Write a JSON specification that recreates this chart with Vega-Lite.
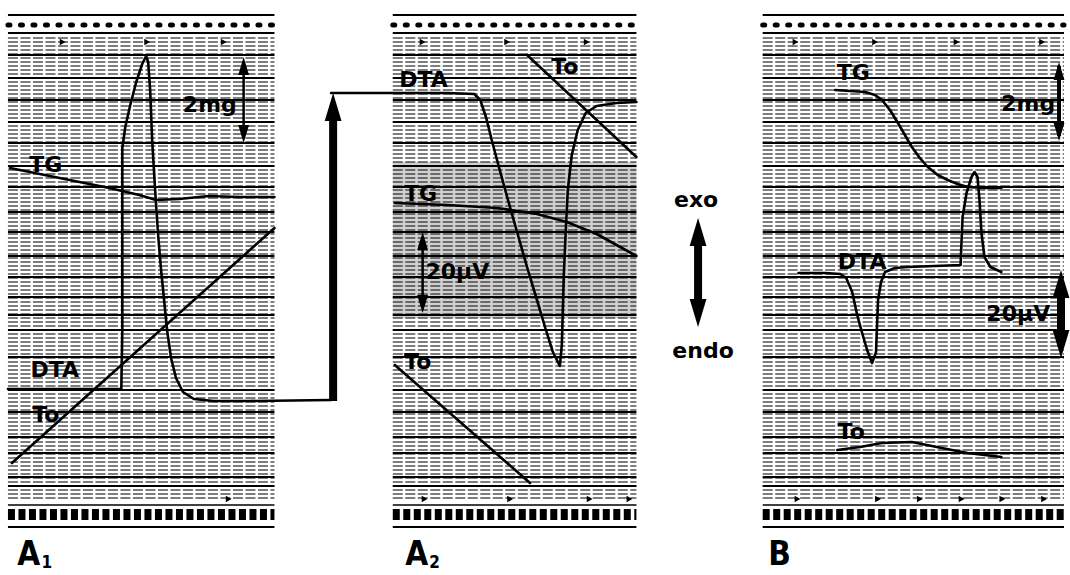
{
  "$schema": "https://vega.github.io/schema/vega-lite/v6.json",
  "width": 1070,
  "height": 575,
  "padding": 0,
  "autosize": {"type": "fit", "contains": "padding"},
  "background": "white",
  "config": {"view": {"stroke": null}, "axis": {"disable": true}, "legend": {"disable": true}},
  "datasets": {
    "stripes": [{"y":38},{"y":42},{"y":46},{"y":50},{"y":54},{"y":58},{"y":62},{"y":66},{"y":70},{"y":74},{"y":78},{"y":82},{"y":86},{"y":90},{"y":94},{"y":98},{"y":102},{"y":106},{"y":110},{"y":114},{"y":118},{"y":122},{"y":126},{"y":130},{"y":134},{"y":138},{"y":142},{"y":146},{"y":150},{"y":154},{"y":158},{"y":162},{"y":166},{"y":170},{"y":174},{"y":178},{"y":182},{"y":186},{"y":190},{"y":194},{"y":198},{"y":202},{"y":206},{"y":210},{"y":214},{"y":218},{"y":222},{"y":226},{"y":230},{"y":234},{"y":238},{"y":242},{"y":246},{"y":250},{"y":254},{"y":258},{"y":262},{"y":266},{"y":270},{"y":274},{"y":278},{"y":282},{"y":286},{"y":290},{"y":294},{"y":298},{"y":302},{"y":306},{"y":310},{"y":314},{"y":318},{"y":322},{"y":326},{"y":330},{"y":334},{"y":338},{"y":342},{"y":346},{"y":350},{"y":354},{"y":358},{"y":362},{"y":366},{"y":370},{"y":374},{"y":378},{"y":382},{"y":386},{"y":390},{"y":394},{"y":398},{"y":402},{"y":406},{"y":410},{"y":414},{"y":418},{"y":422},{"y":426},{"y":430},{"y":434},{"y":438},{"y":442},{"y":446},{"y":450},{"y":454},{"y":458},{"y":462},{"y":466},{"y":470},{"y":474},{"y":478},{"y":482},{"y":486},{"y":490},{"y":494},{"y":498}],
    "majors": [{"y":55},{"y":78},{"y":100},{"y":122},{"y":143},{"y":166},{"y":187},{"y":212},{"y":232},{"y":256},{"y":277},{"y":297},{"y":315},{"y":330},{"y":357},{"y":390},{"y":412},{"y":437},{"y":453},{"y":477},{"y":486}],
    "frames": [{"p":"A1","x0":8,"x1":276},{"p":"A2","x0":395,"x1":640},{"p":"B","x0":767,"x1":1070}],
    "curves": [
      {"id":"a1d","o":1,"x":8,"y":389},{"id":"a1d","o":2,"x":122,"y":389},{"id":"a1d","o":3,"x":123,"y":330},{"id":"a1d","o":4,"x":123,"y":250},{"id":"a1d","o":5,"x":123,"y":180},{"id":"a1d","o":6,"x":123,"y":148},{"id":"a1d","o":7,"x":126,"y":127},{"id":"a1d","o":8,"x":131,"y":105},{"id":"a1d","o":9,"x":137,"y":82},{"id":"a1d","o":10,"x":143,"y":64},{"id":"a1d","o":11,"x":147,"y":56},{"id":"a1d","o":12,"x":149,"y":62},{"id":"a1d","o":13,"x":151,"y":90},{"id":"a1d","o":14,"x":153,"y":140},{"id":"a1d","o":15,"x":156,"y":190},{"id":"a1d","o":16,"x":159,"y":235},{"id":"a1d","o":17,"x":162,"y":270},{"id":"a1d","o":18,"x":165,"y":300},{"id":"a1d","o":19,"x":168,"y":330},{"id":"a1d","o":20,"x":172,"y":358},{"id":"a1d","o":21,"x":177,"y":378},{"id":"a1d","o":22,"x":184,"y":392},{"id":"a1d","o":23,"x":195,"y":399},{"id":"a1d","o":24,"x":215,"y":401},{"id":"a1d","o":25,"x":250,"y":401},{"id":"a1d","o":26,"x":333,"y":400},
      {"id":"a2d","o":1,"x":333,"y":93},{"id":"a2d","o":2,"x":400,"y":93},{"id":"a2d","o":3,"x":450,"y":93},{"id":"a2d","o":4,"x":477,"y":94},{"id":"a2d","o":5,"x":483,"y":100},{"id":"a2d","o":6,"x":489,"y":118},{"id":"a2d","o":7,"x":495,"y":142},{"id":"a2d","o":8,"x":502,"y":168},{"id":"a2d","o":9,"x":510,"y":197},{"id":"a2d","o":10,"x":520,"y":232},{"id":"a2d","o":11,"x":530,"y":267},{"id":"a2d","o":12,"x":540,"y":300},{"id":"a2d","o":13,"x":549,"y":330},{"id":"a2d","o":14,"x":556,"y":352},{"id":"a2d","o":15,"x":563,"y":366},{"id":"a2d","o":16,"x":565,"y":345},{"id":"a2d","o":17,"x":566,"y":310},{"id":"a2d","o":18,"x":567,"y":275},{"id":"a2d","o":19,"x":569,"y":230},{"id":"a2d","o":20,"x":571,"y":190},{"id":"a2d","o":21,"x":575,"y":155},{"id":"a2d","o":22,"x":581,"y":130},{"id":"a2d","o":23,"x":589,"y":113},{"id":"a2d","o":24,"x":600,"y":106},{"id":"a2d","o":25,"x":620,"y":103},{"id":"a2d","o":26,"x":640,"y":102},
      {"id":"a2t1","o":1,"x":530,"y":55},{"id":"a2t1","o":2,"x":640,"y":157},
      {"id":"a2g","o":1,"x":397,"y":203},{"id":"a2g","o":2,"x":450,"y":205},{"id":"a2g","o":3,"x":500,"y":208},{"id":"a2g","o":4,"x":540,"y":214},{"id":"a2g","o":5,"x":570,"y":222},{"id":"a2g","o":6,"x":600,"y":234},{"id":"a2g","o":7,"x":620,"y":245},{"id":"a2g","o":8,"x":640,"y":256},
      {"id":"a2t2","o":1,"x":397,"y":365},{"id":"a2t2","o":2,"x":533,"y":483},
      {"id":"a1g","o":1,"x":10,"y":168},{"id":"a1g","o":2,"x":60,"y":178},{"id":"a1g","o":3,"x":110,"y":188},{"id":"a1g","o":4,"x":140,"y":195},{"id":"a1g","o":5,"x":157,"y":200},{"id":"a1g","o":6,"x":180,"y":199},{"id":"a1g","o":7,"x":210,"y":196},{"id":"a1g","o":8,"x":240,"y":197},{"id":"a1g","o":9,"x":276,"y":197},
      {"id":"a1t","o":1,"x":12,"y":463},{"id":"a1t","o":2,"x":276,"y":228},
      {"id":"bg","o":1,"x":840,"y":90},{"id":"bg","o":2,"x":870,"y":92},{"id":"bg","o":3,"x":880,"y":95},{"id":"bg","o":4,"x":887,"y":100},{"id":"bg","o":5,"x":895,"y":110},{"id":"bg","o":6,"x":903,"y":123},{"id":"bg","o":7,"x":910,"y":135},{"id":"bg","o":8,"x":917,"y":147},{"id":"bg","o":9,"x":925,"y":158},{"id":"bg","o":10,"x":933,"y":167},{"id":"bg","o":11,"x":943,"y":175},{"id":"bg","o":12,"x":953,"y":180},{"id":"bg","o":13,"x":963,"y":184},{"id":"bg","o":14,"x":973,"y":187},{"id":"bg","o":15,"x":990,"y":188},{"id":"bg","o":16,"x":1007,"y":188},
      {"id":"bd","o":1,"x":803,"y":273},{"id":"bd","o":2,"x":830,"y":273},{"id":"bd","o":3,"x":845,"y":274},{"id":"bd","o":4,"x":851,"y":278},{"id":"bd","o":5,"x":857,"y":292},{"id":"bd","o":6,"x":862,"y":315},{"id":"bd","o":7,"x":867,"y":333},{"id":"bd","o":8,"x":872,"y":350},{"id":"bd","o":9,"x":877,"y":363},{"id":"bd","o":10,"x":881,"y":352},{"id":"bd","o":11,"x":882,"y":325},{"id":"bd","o":12,"x":883,"y":300},{"id":"bd","o":13,"x":886,"y":282},{"id":"bd","o":14,"x":890,"y":272},{"id":"bd","o":15,"x":900,"y":268},{"id":"bd","o":16,"x":913,"y":267},{"id":"bd","o":17,"x":940,"y":266},{"id":"bd","o":18,"x":966,"y":265},{"id":"bd","o":19,"x":967,"y":240},{"id":"bd","o":20,"x":968,"y":217},{"id":"bd","o":21,"x":972,"y":193},{"id":"bd","o":22,"x":977,"y":177},{"id":"bd","o":23,"x":980,"y":172},{"id":"bd","o":24,"x":983,"y":177},{"id":"bd","o":25,"x":985,"y":200},{"id":"bd","o":26,"x":987,"y":233},{"id":"bd","o":27,"x":990,"y":257},{"id":"bd","o":28,"x":996,"y":267},{"id":"bd","o":29,"x":1007,"y":272},
      {"id":"bt","o":1,"x":842,"y":450},{"id":"bt","o":2,"x":865,"y":447},{"id":"bt","o":3,"x":887,"y":443},{"id":"bt","o":4,"x":917,"y":442},{"id":"bt","o":5,"x":947,"y":448},{"id":"bt","o":6,"x":973,"y":453},{"id":"bt","o":7,"x":1007,"y":457}
    ],
    "thinShafts": [{"x":245,"y1":62,"y2":138},{"x":425,"y1":237,"y2":308}],
    "midShafts": [{"x":1065,"y1":66,"y2":136}],
    "thickShafts": [{"x":335,"y1":112,"y2":401},{"x":702,"y1":238,"y2":307},{"x":1067,"y1":288,"y2":342}],
    "thinHeads": [{"x":245,"y":66,"dir":"up"},{"x":245,"y":134,"dir":"down"},{"x":425,"y":241,"dir":"up"},{"x":425,"y":304,"dir":"down"},{"x":1065,"y":71,"dir":"up"},{"x":1065,"y":132,"dir":"down"}],
    "thickHeads": [{"x":335,"y":107,"dir":"up"},{"x":702,"y":232,"dir":"up"},{"x":702,"y":313,"dir":"down"},{"x":1067,"y":284,"dir":"up"},{"x":1067,"y":344,"dir":"down"}],
    "ticks": [{"x":63,"y":42},{"x":148,"y":42},{"x":225,"y":42},{"x":425,"y":42},{"x":510,"y":42},{"x":590,"y":42},{"x":800,"y":42},{"x":880,"y":42},{"x":962,"y":42},{"x":1048,"y":42},{"x":230,"y":499},{"x":427,"y":499},{"x":513,"y":499},{"x":593,"y":499},{"x":633,"y":499},{"x":802,"y":499},{"x":883,"y":499},{"x":925,"y":499},{"x":967,"y":499},{"x":1008,"y":499},{"x":1050,"y":499}],
    "labels": [{"x":211,"y":105,"t":"2mg"},{"x":46,"y":165,"t":"TG"},{"x":55,"y":370,"t":"DTA"},{"x":46,"y":415,"t":"To"},{"x":426,"y":80,"t":"DTA"},{"x":568,"y":67,"t":"To"},{"x":423,"y":194,"t":"TG"},{"x":460,"y":272,"t":"20μV"},{"x":420,"y":362,"t":"To"},{"x":858,"y":73,"t":"TG"},{"x":1034,"y":104,"t":"2mg"},{"x":867,"y":262,"t":"DTA"},{"x":1024,"y":314,"t":"20μV"},{"x":856,"y":432,"t":"To"}],
    "exo": [{"x":700,"y":200,"t":"exo"},{"x":707,"y":351,"t":"endo"}],
    "big": [{"x":29,"y":555,"t":"A"},{"x":419,"y":555,"t":"A"},{"x":784,"y":555,"t":"B"}],
    "subs": [{"x":47,"y":563,"t":"1"},{"x":437,"y":563,"t":"2"}]
  },
  "layer": [
    {
      "data": {"values": [{"x":395,"x2":640,"y":162,"y2":318}]},
      "mark": {"type": "rect", "fill": "#8a8a8a", "opacity": 0.4},
      "encoding": {
        "x": {"field": "x", "type": "quantitative", "scale": {"domain": [0, 1070], "nice": false, "zero": false}},
        "x2": {"field": "x2"},
        "y": {"field": "y", "type": "quantitative", "scale": {"domain": [0, 575], "nice": false, "zero": false, "reverse": true}},
        "y2": {"field": "y2"}
      }
    },
    {"data": {"name": "stripes"}, "mark": {"type": "rule", "color": "#222", "strokeWidth": 1.7, "strokeDash": [10, 2.5], "opacity": 0.78},
     "encoding": {"x": {"datum": 8, "type": "quantitative"}, "x2": {"datum": 276}, "y": {"field": "y", "type": "quantitative"}}},
    {"data": {"name": "stripes"}, "mark": {"type": "rule", "color": "#222", "strokeWidth": 1.7, "strokeDash": [10, 2.5], "opacity": 0.78},
     "encoding": {"x": {"datum": 395, "type": "quantitative"}, "x2": {"datum": 640}, "y": {"field": "y", "type": "quantitative"}}},
    {"data": {"name": "stripes"}, "mark": {"type": "rule", "color": "#222", "strokeWidth": 1.7, "strokeDash": [10, 2.5], "opacity": 0.78},
     "encoding": {"x": {"datum": 767, "type": "quantitative"}, "x2": {"datum": 1070}, "y": {"field": "y", "type": "quantitative"}}},
    {"data": {"name": "majors"}, "mark": {"type": "rule", "color": "#000", "strokeWidth": 2},
     "encoding": {"x": {"datum": 8, "type": "quantitative"}, "x2": {"datum": 276}, "y": {"field": "y", "type": "quantitative"}}},
    {"data": {"name": "majors"}, "mark": {"type": "rule", "color": "#000", "strokeWidth": 2},
     "encoding": {"x": {"datum": 395, "type": "quantitative"}, "x2": {"datum": 640}, "y": {"field": "y", "type": "quantitative"}}},
    {"data": {"name": "majors"}, "mark": {"type": "rule", "color": "#000", "strokeWidth": 2},
     "encoding": {"x": {"datum": 767, "type": "quantitative"}, "x2": {"datum": 1070}, "y": {"field": "y", "type": "quantitative"}}},
    {"data": {"name": "frames"}, "mark": {"type": "rule", "color": "#000", "strokeWidth": 2},
     "encoding": {"x": {"field": "x0", "type": "quantitative"}, "x2": {"field": "x1"}, "y": {"datum": 15, "type": "quantitative"}}},
    {"data": {"name": "frames"}, "mark": {"type": "rule", "color": "#000", "strokeWidth": 5, "strokeDash": [2, 10.5], "strokeCap": "round"},
     "encoding": {"x": {"field": "x0", "type": "quantitative"}, "x2": {"field": "x1"}, "y": {"datum": 25, "type": "quantitative"}}},
    {"data": {"name": "frames"}, "mark": {"type": "rule", "color": "#000", "strokeWidth": 2},
     "encoding": {"x": {"field": "x0", "type": "quantitative"}, "x2": {"field": "x1"}, "y": {"datum": 33, "type": "quantitative"}}},
    {"data": {"name": "frames"}, "mark": {"type": "rule", "color": "#000", "strokeWidth": 1.6},
     "encoding": {"x": {"field": "x0", "type": "quantitative"}, "x2": {"field": "x1"}, "y": {"datum": 505, "type": "quantitative"}}},
    {"data": {"name": "frames"}, "mark": {"type": "rule", "color": "#000", "strokeWidth": 11, "strokeDash": [7, 3.5]},
     "encoding": {"x": {"field": "x0", "type": "quantitative"}, "x2": {"field": "x1"}, "y": {"datum": 514.5, "type": "quantitative"}}},
    {"data": {"name": "frames"}, "mark": {"type": "rule", "color": "#000", "strokeWidth": 2},
     "encoding": {"x": {"field": "x0", "type": "quantitative"}, "x2": {"field": "x1"}, "y": {"datum": 527, "type": "quantitative"}}},
    {"data": {"name": "ticks"}, "mark": {"type": "point", "shape": "triangle-right", "filled": true, "color": "#000", "size": 45, "opacity": 1},
     "encoding": {"x": {"field": "x", "type": "quantitative"}, "y": {"field": "y", "type": "quantitative"}}},
    {"data": {"name": "curves"}, "mark": {"type": "line", "color": "#000", "strokeWidth": 2.6, "strokeJoin": "round", "strokeCap": "round"},
     "encoding": {"x": {"field": "x", "type": "quantitative"}, "y": {"field": "y", "type": "quantitative"}, "detail": {"field": "id"}, "order": {"field": "o", "type": "quantitative"}}},
    {"data": {"name": "thinShafts"}, "mark": {"type": "rule", "color": "#000", "strokeWidth": 2.5},
     "encoding": {"x": {"field": "x", "type": "quantitative"}, "y": {"field": "y1", "type": "quantitative"}, "y2": {"field": "y2"}}},
    {"data": {"name": "midShafts"}, "mark": {"type": "rule", "color": "#000", "strokeWidth": 4},
     "encoding": {"x": {"field": "x", "type": "quantitative"}, "y": {"field": "y1", "type": "quantitative"}, "y2": {"field": "y2"}}},
    {"data": {"name": "thickShafts"}, "mark": {"type": "rule", "color": "#000", "strokeWidth": 8},
     "encoding": {"x": {"field": "x", "type": "quantitative"}, "y": {"field": "y1", "type": "quantitative"}, "y2": {"field": "y2"}}},
    {"data": {"name": "thinHeads"}, "mark": {"type": "point", "filled": true, "color": "#000", "opacity": 1, "size": 324},
     "encoding": {"x": {"field": "x", "type": "quantitative"}, "y": {"field": "y", "type": "quantitative"},
       "shape": {"field": "dir", "type": "nominal", "scale": {"domain": ["up", "down"], "range": ["M0,-1L0.6,1L-0.6,1Z", "M0,1L0.6,-1L-0.6,-1Z"]}, "legend": null}}},
    {"data": {"name": "thickHeads"}, "mark": {"type": "point", "filled": true, "color": "#000", "opacity": 1, "size": 784},
     "encoding": {"x": {"field": "x", "type": "quantitative"}, "y": {"field": "y", "type": "quantitative"},
       "shape": {"field": "dir", "type": "nominal", "scale": {"domain": ["up", "down"], "range": ["M0,-1L0.66,1L-0.66,1Z", "M0,1L0.66,-1L-0.66,-1Z"]}, "legend": null}}},
    {"data": {"name": "labels"}, "mark": {"type": "text", "font": "DejaVu Sans", "fontWeight": "bold", "fontSize": 22, "color": "#000", "align": "center", "baseline": "middle"},
     "encoding": {"x": {"field": "x", "type": "quantitative"}, "y": {"field": "y", "type": "quantitative"}, "text": {"field": "t"}}},
    {"data": {"name": "exo"}, "mark": {"type": "text", "font": "DejaVu Sans", "fontWeight": "bold", "fontSize": 22, "color": "#000", "align": "center", "baseline": "middle"},
     "encoding": {"x": {"field": "x", "type": "quantitative"}, "y": {"field": "y", "type": "quantitative"}, "text": {"field": "t"}}},
    {"data": {"name": "big"}, "mark": {"type": "text", "font": "DejaVu Sans Condensed, Liberation Sans Narrow, sans-serif", "fontWeight": "bold", "fontSize": 33, "color": "#000", "align": "center", "baseline": "middle"},
     "encoding": {"x": {"field": "x", "type": "quantitative"}, "y": {"field": "y", "type": "quantitative"}, "text": {"field": "t"}}},
    {"data": {"name": "subs"}, "mark": {"type": "text", "font": "DejaVu Sans Condensed, Liberation Sans Narrow, sans-serif", "fontWeight": "bold", "fontSize": 17, "color": "#000", "align": "center", "baseline": "middle"},
     "encoding": {"x": {"field": "x", "type": "quantitative"}, "y": {"field": "y", "type": "quantitative"}, "text": {"field": "t"}}}
  ]
}
